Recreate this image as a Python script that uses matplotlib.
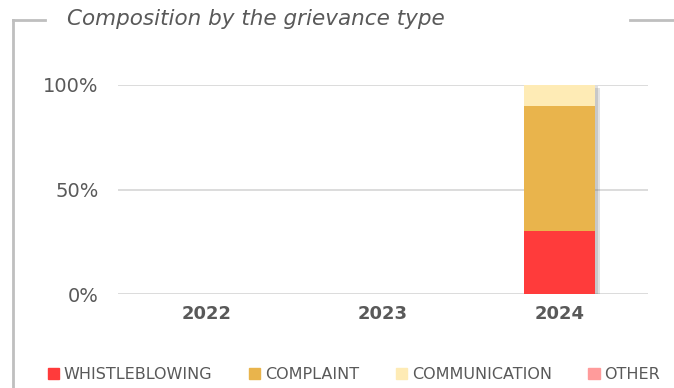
import numpy as np
import matplotlib.pyplot as plt
import matplotlib.patheffects as pe
from matplotlib.lines import Line2D
from matplotlib.patches import Patch

years = ['2022', '2023', '2024']
whistleblowing = [0, 0, 30]
complaint = [0, 0, 60]
communication = [0, 0, 10]
other = [0, 0, 0]

series = [('WHISTLEBLOWING', whistleblowing, '#FF3B3B'),
          ('COMPLAINT', complaint, '#E9B44C'),
          ('COMMUNICATION', communication, '#FEEBB5'),
          ('OTHER', other, '#FF9B9B')]

grey = '#595959'
fig = plt.figure(figsize=(6.74, 3.88), dpi=100)
ax = fig.add_axes([0.175, 0.242, 0.786, 0.539])

x = np.arange(len(years))
totals = np.sum([s[1] for s in series], axis=0)
# soft shadow behind the stacked bars
ax.bar(x, totals, 0.4, color='white', zorder=2,
       path_effects=[pe.SimplePatchShadow(offset=(4, -2), alpha=0.18, shadow_rgbFace='#606060'),
                     pe.SimplePatchShadow(offset=(2, -1), alpha=0.2, shadow_rgbFace='#606060'),
                     pe.Normal()])
bottom = np.zeros(len(years))
for name, vals, col in series:
    vals = np.array(vals, dtype=float)
    ax.bar(x, vals, 0.4, bottom=bottom, color=col, label=name, zorder=3)
    bottom += vals

ax.set_ylim(0, 100)
ax.set_xlim(-0.5, 2.5)
ax.set_yticks([0, 50, 100])
ax.set_yticklabels(['0%', '50%', '100%'])
ax.set_xticks(x)
ax.set_xticklabels(years, fontweight='bold')
ax.tick_params(axis='y', length=0, labelsize=14, colors=grey, pad=14)
ax.tick_params(axis='x', length=0, labelsize=13, colors=grey, pad=8)
ax.grid(axis='y', color='#d9d9d9', linewidth=1.3, zorder=0)
for s in ax.spines.values():
    s.set_visible(False)

fig.text(0.099, 0.951, 'Composition by the grievance type', fontsize=15.5,
         style='italic', color=grey, va='center')

# frame lines
fc = '#bfbfbf'
fig.add_artist(Line2D([0.02, 0.02], [0.0, 0.949], color=fc, lw=2))
fig.add_artist(Line2D([0.02, 0.067], [0.949, 0.949], color=fc, lw=2))
fig.add_artist(Line2D([0.935, 1.0], [0.949, 0.949], color=fc, lw=2))

handles = [Patch(color=c) for _, _, c in series]
fig.legend(handles, [n for n, _, _ in series], loc='center', bbox_to_anchor=(0.525, 0.035),
           ncol=4, frameon=False, fontsize=11.5, handlelength=0.7, handleheight=0.7,
           handletextpad=0.3, columnspacing=2.3, labelcolor=grey)

fig.savefig('out.png', dpi=100)
